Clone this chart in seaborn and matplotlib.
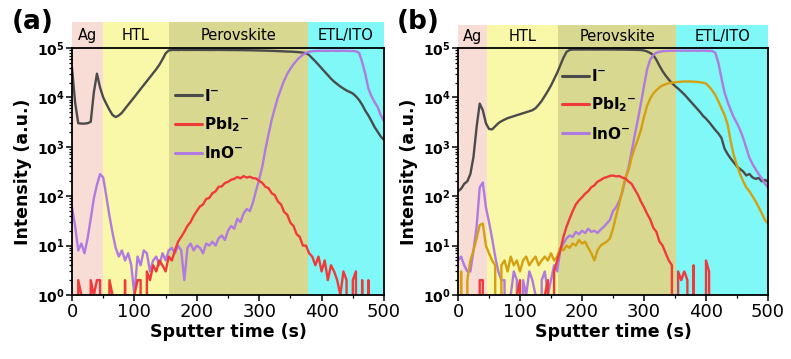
import matplotlib
matplotlib.use("Agg")
import matplotlib.pyplot as plt
from matplotlib.patches import Rectangle
from matplotlib.lines import Line2D
from matplotlib.ticker import LogLocator, NullFormatter, FixedLocator, MultipleLocator
import pandas as pd
import seaborn as sns

# ---------------------------------------------------------------- data
time_s = list(range(0, 505, 5))

# panel (a)
a_iodide = [
    39800, 7900, 3000, 2950, 2950, 3000, 3200, 12600, 30200, 15800,
    10000, 7400, 5600, 4400, 4000, 4300, 4900, 5900, 7100, 8500,
    10200, 12300, 14800, 17800, 21400, 25700, 30900, 37200, 45700, 58900,
    77600, 89100, 91200, 91500, 91000, 91800, 91300, 91600, 91200, 91500,
    91300, 91700, 91200, 91500, 91000, 91400, 91200, 91600, 91100, 91300,
    91000, 90800, 90900, 90500, 90600, 90300, 90100, 89900, 89700, 89400,
    89100, 88800, 88400, 88000, 87500, 87100, 86500, 86000, 85500, 84800,
    84500, 83800, 83000, 82000, 80500, 78500, 72000, 62000, 53700, 45700,
    38900, 33100, 28200, 24000, 20900, 18600, 16600, 15100, 13800, 12900,
    12000, 10500, 8900, 7100, 5400, 4300, 3300, 2500, 2000, 1600,
    1380]
a_pbi2 = [
    0, 0, 2, 1, 0, 0, 2, 1, 2, 2,
    0, 0, 2, 1, 0, 0, 0, 2, 0, 0,
    1, 2, 2, 0, 3, 2, 4, 3, 5, 4,
    3, 6, 5, 8, 12, 15, 19, 25, 30, 40,
    50, 62, 68, 88, 92, 115, 125, 155, 158, 185,
    195, 215, 225, 245, 230, 255, 238, 248, 232, 228,
    205, 185, 155, 145, 115, 105, 78, 68, 48, 42,
    29, 25, 17, 15, 10, 10, 7, 6, 4, 6,
    3, 5, 2, 4, 3, 2, 1, 3, 2, 0,
    2, 3, 0, 2, 0, 2, 0, 0, 0, 0,
    0]
a_ino = [
    60, 25, 8, 11, 7, 14, 35, 90, 170, 280,
    240, 100, 40, 18, 9, 6, 8, 5, 7, 4,
    1, 6, 4, 8, 7, 3, 5, 6, 4, 7,
    5, 8, 9, 7, 10, 8, 2, 9, 11, 8,
    10, 9, 7, 11, 10, 12, 10, 14, 16, 13,
    20, 25, 22, 35, 30, 45, 55, 50, 75, 130,
    220, 400, 900, 1800, 3500, 6000, 10000, 15000, 22000, 30000,
    38000, 47000, 56000, 65000, 73000, 80000, 84000, 86000, 87000, 87500,
    88000, 88000, 87500, 88000, 88000, 87500, 88000, 88000, 87500, 87000,
    87000, 86000, 80000, 52000, 30000, 15000, 10500, 8000, 6300, 4300,
    3300]

# panel (b)
b_iodide = [
    126, 141, 178, 200, 282, 630, 2500, 7500, 5500, 3000,
    2300, 2250, 2600, 3000, 3300, 3550, 3800, 3980, 4170, 4370,
    4570, 4790, 5010, 5250, 5500, 6030, 7080, 8510, 10700, 13500,
    17400, 23400, 31600, 44700, 63100, 83200, 91200, 93000, 93300, 93000,
    93300, 93500, 93200, 93400, 93300, 93000, 93400, 93200, 93300, 93100,
    93200, 93000, 92800, 92900, 92600, 92400, 92200, 91800, 91500, 91000,
    89100, 85100, 79400, 72400, 57500, 43600, 33900, 27500, 22900, 19500,
    17000, 15100, 13200, 11500, 9800, 8300, 7080, 6030, 5130, 4270,
    3720, 3160, 2630, 2190, 1860, 1510, 912, 708, 575, 479,
    398, 355, 316, 263, 282, 240, 224, 234, 200, 214,
    195]
b_pbi2 = [
    0, 0, 0, 0, 0, 0, 0, 2, 2, 0,
    0, 0, 0, 0, 0, 0, 0, 0, 0, 1,
    2, 0, 0, 0, 0, 0, 0, 0, 1, 2,
    0, 3, 5, 8, 15, 24, 35, 50, 68, 82,
    95, 112, 126, 152, 166, 197, 212, 233, 243, 258,
    262, 252, 256, 238, 228, 198, 178, 138, 108, 78,
    60, 44, 34, 23, 19, 12, 10, 7, 5, 4,
    0, 3, 2, 3, 2, 0, 4, 0, 0, 0,
    5, 3, 0, 0, 0, 0, 0, 0, 0, 0,
    0, 0, 0, 0, 0, 0, 0, 0, 0, 0,
    0]
b_ino = [
    5, 6, 4, 3, 3, 8, 24, 150, 190, 60,
    30, 14, 6, 3, 2, 2, 0, 1, 3, 2,
    0, 2, 1, 3, 2, 1, 0, 2, 3, 1,
    2, 4, 3, 8, 11, 14, 16, 15, 19, 17,
    20, 18, 22, 19, 20, 18, 21, 24, 28, 33,
    50, 60, 80, 120, 220, 380, 800, 1700, 3500, 7500,
    17000, 37000, 58000, 72000, 80000, 84000, 86000, 87000, 87500, 88000,
    88000, 88500, 88000, 88500, 88000, 88000, 88500, 88000, 88000, 88500,
    88000, 87500, 87000, 80000, 50000, 24000, 12500, 8000, 5500, 3900,
    3000, 2200, 1500, 950, 600, 450, 350, 280, 230, 180,
    150]
b_gold = [
    0, 3, 0, 2, 5, 8, 14, 26, 28, 10,
    7, 5, 4, 0, 4, 5, 3, 6, 4, 5,
    3, 5, 6, 4, 5, 6, 4, 5, 6, 5,
    7, 5, 6, 9, 8, 10, 9, 11, 10, 13,
    11, 12, 9, 7, 5, 8, 10, 11, 12, 14,
    22, 40, 70, 130, 240, 330, 600, 950, 1400, 2200,
    4000, 6800, 9500, 12000, 14000, 16000, 17500, 18500, 19300, 19800,
    20200, 20500, 20800, 21000, 21000, 21000, 20800, 20600, 20300, 19800,
    19000, 16600, 13800, 11200, 8300, 6000, 4400, 2800, 1260, 660,
    420, 280, 200, 150, 126, 100, 79, 60, 45, 33,
    28]

layer_names = ["Ag", "HTL", "Perovskite", "ETL/ITO"]
a_layer_edges = [0, 50, 155, 378, 500]
b_layer_edges = [0, 47, 161, 352, 500]
layer_colors = ["#f8dcd6", "#f8f8a8", "#d8d890", "#80f8f8"]

series_labels = [r"$\mathbf{I^{-}}$", r"$\mathbf{PbI_{2}{}^{-}}$", r"$\mathbf{InO^{-}}$"]
ytick_labels = [r"$\mathbf{10^{%d}}$" % k for k in range(6)]

colors = {"iodide": "#4b4b4b", "pbi2": "#f03a3a", "ino": "#b07ae0", "gold": "#d4a012"}

# ---------------------------------------------------------------- style
sns.set_style("ticks")
plt.rcParams["font.family"] = ["DejaVu Sans"]
plt.rcParams["mathtext.fontset"] = "dejavusans"
for key in ["text.color", "axes.labelcolor", "xtick.color", "ytick.color", "axes.edgecolor"]:
    plt.rcParams[key] = "black"

fig = plt.figure(figsize=(7.91, 3.59), dpi=100)
ax_a = fig.add_axes([72 / 791, 64 / 359, 312 / 791, 247 / 359])
ax_b = fig.add_axes([458 / 791, 64 / 359, 310 / 791, 247 / 359])


def draw_panel(ax, series, edges, strip_top, legend_anchor, tag, tag_x):
    # layer bands, extended above the frame as a labelled strip
    for name, x0, x1, c in zip(layer_names, edges[:-1], edges[1:], layer_colors):
        ax.add_patch(Rectangle((x0, 0), x1 - x0, strip_top,
                               transform=ax.get_xaxis_transform(),
                               facecolor=c, edgecolor="none", clip_on=False, zorder=0))
        ax.text((x0 + x1) / 2, (1 + strip_top) / 2, name,
                transform=ax.get_xaxis_transform(), ha="center", va="center",
                fontsize=10.5, color="black")

    for key, values in series:
        df = pd.DataFrame({"t": time_s, "v": values})
        sns.lineplot(data=df, x="t", y="v", ax=ax, color=colors[key],
                     linewidth=1.7, estimator=None, errorbar=None, zorder=3)

    ax.set_yscale("log")
    ax.set_ylim(1, 1e5)
    ax.set_xlim(0, 500)
    ax.yaxis.set_major_locator(FixedLocator([10 ** k for k in range(6)]))
    ax.set_yticklabels(ytick_labels)
    ax.yaxis.set_minor_locator(LogLocator(base=10, subs=range(2, 10), numticks=20))
    ax.yaxis.set_minor_formatter(NullFormatter())
    ax.xaxis.set_major_locator(MultipleLocator(100))
    ax.xaxis.set_minor_locator(MultipleLocator(50))
    ax.tick_params(axis="x", which="major", labelsize=13, length=4, width=1.1, pad=2)
    ax.tick_params(axis="y", which="major", labelsize=10, length=4, width=1.1, pad=1.5)
    ax.tick_params(which="minor", length=2.2, width=0.9)
    for sp in ax.spines.values():
        sp.set_linewidth(1.3)
        sp.set_color("black")
        sp.set_visible(True)
        sp.set_zorder(5)

    ax.set_xlabel("Sputter time (s)", fontsize=12.5, fontweight="bold", labelpad=1)
    ax.set_ylabel("Intensity (a.u.)", fontsize=12.5, fontweight="bold", labelpad=3)

    handles = [Line2D([], [], color=colors[k], linewidth=2.2) for k in ["iodide", "pbi2", "ino"]]
    ax.legend(handles, series_labels, loc="center left", bbox_to_anchor=legend_anchor,
              frameon=False, fontsize=11, handlelength=1.75, handletextpad=0.15,
              labelspacing=0.75, borderpad=0, borderaxespad=0)

    fig.text(tag_x, 0.94, tag, fontsize=19, fontweight="bold", va="center", ha="left")


draw_panel(ax_a,
           [("iodide", a_iodide), ("ino", a_ino), ("pbi2", a_pbi2)],
           a_layer_edges, 1.105, (0.33, 0.69), "(a)", 12 / 791)
draw_panel(ax_b,
           [("iodide", b_iodide), ("ino", b_ino), ("gold", b_gold), ("pbi2", b_pbi2)],
           b_layer_edges, 1.093, (0.335, 0.77), "(b)", 397 / 791)

fig.savefig("out.png", dpi=100)
